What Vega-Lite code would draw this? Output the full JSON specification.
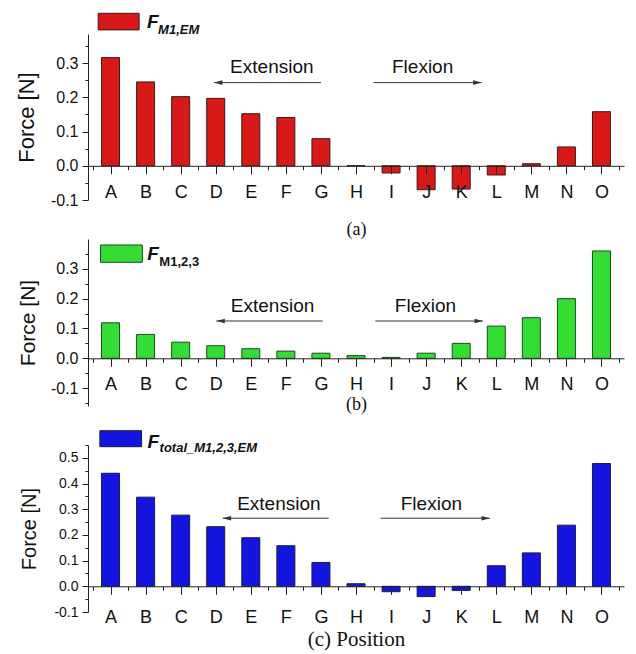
{
  "$schema": "https://vega.github.io/schema/vega-lite/v6.json",
  "padding": {"left": 15, "top": 12, "right": 5, "bottom": 2},
  "background": "white",
  "spacing": 39,
  "bounds": "flush",
  "config": {
    "view": {"stroke": null},
    "font": "Liberation Sans",
    "axis": {"grid": false, "domainColor": "#222", "tickColor": "#222", "labelColor": "#111", "titleColor": "#111", "labelFont": "Liberation Sans", "titleFont": "Liberation Sans", "titleFontWeight": "normal", "labelOverlap": false, "labelFlush": false, "domainWidth": 1, "tickWidth": 1}
  },
  "datasets": {
    "a": [
      {"pos": "A", "i": 0, "force": 0.316}, {"pos": "B", "i": 1, "force": 0.245}, {"pos": "C", "i": 2, "force": 0.202},
      {"pos": "D", "i": 3, "force": 0.197}, {"pos": "E", "i": 4, "force": 0.152}, {"pos": "F", "i": 5, "force": 0.141},
      {"pos": "G", "i": 6, "force": 0.079}, {"pos": "H", "i": 7, "force": 0.0}, {"pos": "I", "i": 8, "force": -0.021},
      {"pos": "J", "i": 9, "force": -0.070}, {"pos": "K", "i": 10, "force": -0.068}, {"pos": "L", "i": 11, "force": -0.027},
      {"pos": "M", "i": 12, "force": 0.006}, {"pos": "N", "i": 13, "force": 0.055}, {"pos": "O", "i": 14, "force": 0.158}
    ],
    "b": [
      {"pos": "A", "i": 0, "force": 0.119}, {"pos": "B", "i": 1, "force": 0.080}, {"pos": "C", "i": 2, "force": 0.054},
      {"pos": "D", "i": 3, "force": 0.042}, {"pos": "E", "i": 4, "force": 0.032}, {"pos": "F", "i": 5, "force": 0.024},
      {"pos": "G", "i": 6, "force": 0.017}, {"pos": "H", "i": 7, "force": 0.009}, {"pos": "I", "i": 8, "force": 0.003},
      {"pos": "J", "i": 9, "force": 0.017}, {"pos": "K", "i": 10, "force": 0.050}, {"pos": "L", "i": 11, "force": 0.108},
      {"pos": "M", "i": 12, "force": 0.136}, {"pos": "N", "i": 13, "force": 0.200}, {"pos": "O", "i": 14, "force": 0.360}
    ],
    "c": [
      {"pos": "A", "i": 0, "force": 0.440}, {"pos": "B", "i": 1, "force": 0.347}, {"pos": "C", "i": 2, "force": 0.277},
      {"pos": "D", "i": 3, "force": 0.232}, {"pos": "E", "i": 4, "force": 0.189}, {"pos": "F", "i": 5, "force": 0.158},
      {"pos": "G", "i": 6, "force": 0.093}, {"pos": "H", "i": 7, "force": 0.010}, {"pos": "I", "i": 8, "force": -0.021},
      {"pos": "J", "i": 9, "force": -0.040}, {"pos": "K", "i": 10, "force": -0.016}, {"pos": "L", "i": 11, "force": 0.080},
      {"pos": "M", "i": 12, "force": 0.130}, {"pos": "N", "i": 13, "force": 0.238}, {"pos": "O", "i": 14, "force": 0.478}
    ],
    "arr_a": [
      {"label": "Extension", "x1": 2.95, "x2": 6.0, "tip": 2.95, "dir": "left", "y": 0.243, "tx": 4.6, "ty": 0.289},
      {"label": "Flexion", "x1": 7.5, "x2": 10.58, "tip": 10.58, "dir": "right", "y": 0.243, "tx": 8.9, "ty": 0.289}
    ],
    "arr_b": [
      {"label": "Extension", "x1": 3.02, "x2": 6.05, "tip": 3.02, "dir": "left", "y": 0.125, "tx": 4.62, "ty": 0.175},
      {"label": "Flexion", "x1": 7.55, "x2": 10.62, "tip": 10.62, "dir": "right", "y": 0.125, "tx": 8.98, "ty": 0.175}
    ],
    "arr_c": [
      {"label": "Extension", "x1": 3.2, "x2": 6.22, "tip": 3.2, "dir": "left", "y": 0.265, "tx": 4.8, "ty": 0.32},
      {"label": "Flexion", "x1": 7.7, "x2": 10.82, "tip": 10.82, "dir": "right", "y": 0.265, "tx": 9.15, "ty": 0.32}
    ],
    "leg_a": [{"x": -0.352, "x2": 0.815, "y": 0.4455, "y2": 0.397, "main": "F", "sub": "M1,EM"}],
    "leg_b": [{"x": -0.285, "x2": 0.908, "y": 0.380, "y2": 0.322, "main": "F", "sub": "M1,2,3"}],
    "leg_c": [{"x": -0.304, "x2": 0.885, "y": 0.6056, "y2": 0.5434, "main": "F", "sub": "total_M1,2,3,EM"}]
  },
  "vconcat": [
    {
      "width": 536, "height": 166,
      "resolve": {"axis": {"x": "independent", "y": "independent"}},
      "layer": [
        {
          "data": {"name": "a"},
          "mark": {"type": "bar", "size": 18, "fill": "#d91818", "stroke": "#3a1a1a", "strokeWidth": 1},
          "encoding": {
            "x": {"field": "i", "type": "quantitative", "scale": {"domain": [-0.5, 14.5], "nice": false},
              "axis": {"orient": "bottom", "values": [0,1,2,3,4,5,6,7,8,9,10,11,12,13,14],
                "labelExpr": "substring('ABCDEFGHIJKLMNO', datum.value, datum.value + 1)",
                "tickSize": 8, "offset": -34.2, "labelPadding": 10, "labelFontSize": 18, "labelAngle": 0, "zindex": 1, "labelOverlap": false,
                "title": "(a)", "titleFont": "Liberation Serif", "titleFontSize": 18, "titlePadding": 19}},
            "y": {"field": "force", "type": "quantitative", "scale": {"domain": [-0.1, 0.385], "nice": false},
              "axis": {"orient": "left", "values": [-0.1, 0, 0.1, 0.2, 0.3], "format": ".1f",
                "labelExpr": "replace(datum.label, '\u2212', '-')", "labelOverlap": false,
                "tickSize": 6, "labelPadding": 4, "labelFontSize": 16, "title": "Force [N]", "titleFontSize": 22, "titlePadding": 12}}
          }
        },
        {
          "data": {"name": "arr_a"},
          "mark": {"type": "rule", "color": "#333", "strokeWidth": 1},
          "encoding": {
            "x": {"field": "x1", "type": "quantitative",
              "axis": {"orient": "bottom", "values": [-0.5,0.5,1.5,2.5,3.5,4.5,5.5,6.5,7.5,8.5,9.5,10.5,11.5,12.5,13.5,14.5], "labels": false, "domain": false, "tickSize": 4, "offset": -34.2, "zindex": 1, "title": null}},
            "x2": {"field": "x2"},
            "y": {"field": "y", "type": "quantitative",
              "axis": {"orient": "left", "values": [-0.05, 0.05, 0.15, 0.25, 0.35], "labels": false, "domain": false, "tickSize": 3, "title": null}}
          }
        },
        {
          "data": {"name": "arr_a"},
          "mark": {"type": "point", "filled": true, "color": "#333", "opacity": 1, "size": 70},
          "encoding": {"x": {"field": "tip", "type": "quantitative", "axis": null}, "y": {"field": "y", "type": "quantitative", "axis": null},
            "shape": {"field": "dir", "type": "nominal", "scale": {"domain": ["left", "right"], "range": ["M0,0L2,-0.55L2,0.55Z", "M0,0L-2,-0.55L-2,0.55Z"]}, "legend": null}}
        },
        {
          "data": {"name": "arr_a"},
          "mark": {"type": "text", "fontSize": 19, "color": "#111", "align": "center", "baseline": "middle"},
          "encoding": {"x": {"field": "tx", "type": "quantitative", "axis": null}, "y": {"field": "ty", "type": "quantitative", "axis": null}, "text": {"field": "label"}}
        },
        {
          "data": {"name": "leg_a"},
          "mark": {"type": "rect", "fill": "#d91818", "stroke": "#3a1a1a", "strokeWidth": 1},
          "encoding": {"x": {"field": "x", "type": "quantitative", "axis": null}, "x2": {"field": "x2"}, "y": {"field": "y", "type": "quantitative", "axis": null}, "y2": {"field": "y2"}}
        },
        {
          "data": {"name": "leg_a"},
          "mark": {"type": "text", "fontSize": 19, "fontWeight": "bold", "fontStyle": "italic", "align": "left", "baseline": "alphabetic", "dx": 8, "dy": -2, "color": "#111"},
          "encoding": {"x": {"field": "x2", "type": "quantitative", "axis": null}, "y": {"field": "y2", "type": "quantitative", "axis": null}, "text": {"field": "main"}}
        },
        {
          "data": {"name": "leg_a"},
          "mark": {"type": "text", "fontSize": 13, "fontWeight": "bold", "fontStyle": "italic", "align": "left", "baseline": "alphabetic", "dx": 19, "dy": 4, "color": "#111"},
          "encoding": {"x": {"field": "x2", "type": "quantitative", "axis": null}, "y": {"field": "y2", "type": "quantitative", "axis": null}, "text": {"field": "sub"}}
        }
      ]
    },
    {
      "width": 536, "height": 167,
      "resolve": {"axis": {"x": "independent", "y": "independent"}},
      "layer": [
        {
          "data": {"name": "b"},
          "mark": {"type": "bar", "size": 18, "fill": "#33dd33", "stroke": "#1f4a1f", "strokeWidth": 1},
          "encoding": {
            "x": {"field": "i", "type": "quantitative", "scale": {"domain": [-0.5, 14.5], "nice": false},
              "axis": {"orient": "bottom", "values": [0,1,2,3,4,5,6,7,8,9,10,11,12,13,14],
                "labelExpr": "substring('ABCDEFGHIJKLMNO', datum.value, datum.value + 1)",
                "tickSize": 8, "offset": -47.7, "labelPadding": 9, "labelFontSize": 18, "labelAngle": 0, "zindex": 1, "labelOverlap": false,
                "title": "(b)", "titleFont": "Liberation Serif", "titleFontSize": 18, "titlePadding": 2}},
            "y": {"field": "force", "type": "quantitative", "scale": {"domain": [-0.16, 0.40], "nice": false},
              "axis": {"orient": "left", "values": [-0.1, 0, 0.1, 0.2, 0.3], "format": ".1f",
                "labelExpr": "replace(datum.label, '\u2212', '-')", "labelOverlap": false,
                "tickSize": 6, "labelPadding": 4, "labelFontSize": 16, "title": "Force [N]", "titleFontSize": 21, "titlePadding": 12}}
          }
        },
        {
          "data": {"name": "arr_b"},
          "mark": {"type": "rule", "color": "#333", "strokeWidth": 1},
          "encoding": {
            "x": {"field": "x1", "type": "quantitative",
              "axis": {"orient": "bottom", "values": [-0.5,0.5,1.5,2.5,3.5,4.5,5.5,6.5,7.5,8.5,9.5,10.5,11.5,12.5,13.5,14.5], "labels": false, "domain": false, "tickSize": 4, "offset": -47.7, "zindex": 1, "title": null}},
            "x2": {"field": "x2"},
            "y": {"field": "y", "type": "quantitative",
              "axis": {"orient": "left", "values": [-0.15, -0.05, 0.05, 0.15, 0.25, 0.35], "labels": false, "domain": false, "tickSize": 3, "title": null}}
          }
        },
        {
          "data": {"name": "arr_b"},
          "mark": {"type": "point", "filled": true, "color": "#333", "opacity": 1, "size": 70},
          "encoding": {"x": {"field": "tip", "type": "quantitative", "axis": null}, "y": {"field": "y", "type": "quantitative", "axis": null},
            "shape": {"field": "dir", "type": "nominal", "scale": {"domain": ["left", "right"], "range": ["M0,0L2,-0.55L2,0.55Z", "M0,0L-2,-0.55L-2,0.55Z"]}, "legend": null}}
        },
        {
          "data": {"name": "arr_b"},
          "mark": {"type": "text", "fontSize": 19, "color": "#111", "align": "center", "baseline": "middle"},
          "encoding": {"x": {"field": "tx", "type": "quantitative", "axis": null}, "y": {"field": "ty", "type": "quantitative", "axis": null}, "text": {"field": "label"}}
        },
        {
          "data": {"name": "leg_b"},
          "mark": {"type": "rect", "fill": "#33dd33", "stroke": "#1f4a1f", "strokeWidth": 1},
          "encoding": {"x": {"field": "x", "type": "quantitative", "axis": null}, "x2": {"field": "x2"}, "y": {"field": "y", "type": "quantitative", "axis": null}, "y2": {"field": "y2"}}
        },
        {
          "data": {"name": "leg_b"},
          "mark": {"type": "text", "fontSize": 19, "fontWeight": "bold", "fontStyle": "italic", "align": "left", "baseline": "alphabetic", "dx": 5, "dy": -2, "color": "#111"},
          "encoding": {"x": {"field": "x2", "type": "quantitative", "axis": null}, "y": {"field": "y2", "type": "quantitative", "axis": null}, "text": {"field": "main"}}
        },
        {
          "data": {"name": "leg_b"},
          "mark": {"type": "text", "fontSize": 13, "fontWeight": "bold", "align": "left", "baseline": "alphabetic", "dx": 17, "dy": 4, "color": "#111"},
          "encoding": {"x": {"field": "x2", "type": "quantitative", "axis": null}, "y": {"field": "y2", "type": "quantitative", "axis": null}, "text": {"field": "sub"}}
        }
      ]
    },
    {
      "width": 536, "height": 167,
      "resolve": {"axis": {"x": "independent", "y": "independent"}},
      "layer": [
        {
          "data": {"name": "c"},
          "mark": {"type": "bar", "size": 18, "fill": "#1515e0", "stroke": "#1a1a4a", "strokeWidth": 1},
          "encoding": {
            "x": {"field": "i", "type": "quantitative", "scale": {"domain": [-0.5, 14.5], "nice": false},
              "axis": {"orient": "bottom", "values": [0,1,2,3,4,5,6,7,8,9,10,11,12,13,14],
                "labelExpr": "substring('ABCDEFGHIJKLMNO', datum.value, datum.value + 1)",
                "tickSize": 8, "offset": -25.7, "labelPadding": 14, "labelFontSize": 18, "labelAngle": 0, "zindex": 1, "labelOverlap": false,
                "title": "(c) Position", "titleFont": "Liberation Serif", "titleFontSize": 21, "titlePadding": 2}},
            "y": {"field": "force", "type": "quantitative", "scale": {"domain": [-0.1, 0.55], "nice": false},
              "axis": {"orient": "left", "values": [-0.1, 0, 0.1, 0.2, 0.3, 0.4, 0.5], "format": ".1f",
                "labelExpr": "replace(datum.label, '\u2212', '-')", "labelOverlap": false,
                "tickSize": 6, "labelPadding": 4, "labelFontSize": 14, "title": "Force [N]", "titleFontSize": 20, "titlePadding": 14}}
          }
        },
        {
          "data": {"name": "arr_c"},
          "mark": {"type": "rule", "color": "#333", "strokeWidth": 1},
          "encoding": {
            "x": {"field": "x1", "type": "quantitative",
              "axis": {"orient": "bottom", "values": [-0.5,0.5,1.5,2.5,3.5,4.5,5.5,6.5,7.5,8.5,9.5,10.5,11.5,12.5,13.5,14.5], "labels": false, "domain": false, "tickSize": 4, "offset": -25.7, "zindex": 1, "title": null}},
            "x2": {"field": "x2"},
            "y": {"field": "y", "type": "quantitative",
              "axis": {"orient": "left", "values": [-0.05, 0.05, 0.15, 0.25, 0.35, 0.45, 0.55], "labels": false, "domain": false, "tickSize": 3, "title": null}}
          }
        },
        {
          "data": {"name": "arr_c"},
          "mark": {"type": "point", "filled": true, "color": "#333", "opacity": 1, "size": 70},
          "encoding": {"x": {"field": "tip", "type": "quantitative", "axis": null}, "y": {"field": "y", "type": "quantitative", "axis": null},
            "shape": {"field": "dir", "type": "nominal", "scale": {"domain": ["left", "right"], "range": ["M0,0L2,-0.55L2,0.55Z", "M0,0L-2,-0.55L-2,0.55Z"]}, "legend": null}}
        },
        {
          "data": {"name": "arr_c"},
          "mark": {"type": "text", "fontSize": 19, "color": "#111", "align": "center", "baseline": "middle"},
          "encoding": {"x": {"field": "tx", "type": "quantitative", "axis": null}, "y": {"field": "ty", "type": "quantitative", "axis": null}, "text": {"field": "label"}}
        },
        {
          "data": {"name": "leg_c"},
          "mark": {"type": "rect", "fill": "#1515e0", "stroke": "#1a1a4a", "strokeWidth": 1},
          "encoding": {"x": {"field": "x", "type": "quantitative", "axis": null}, "x2": {"field": "x2"}, "y": {"field": "y", "type": "quantitative", "axis": null}, "y2": {"field": "y2"}}
        },
        {
          "data": {"name": "leg_c"},
          "mark": {"type": "text", "fontSize": 19, "fontWeight": "bold", "fontStyle": "italic", "align": "left", "baseline": "alphabetic", "dx": 6, "dy": 1, "color": "#111"},
          "encoding": {"x": {"field": "x2", "type": "quantitative", "axis": null}, "y": {"field": "y2", "type": "quantitative", "axis": null}, "text": {"field": "main"}}
        },
        {
          "data": {"name": "leg_c"},
          "mark": {"type": "text", "fontSize": 13, "fontWeight": "bold", "fontStyle": "italic", "align": "left", "baseline": "alphabetic", "dx": 18, "dy": 5, "color": "#111"},
          "encoding": {"x": {"field": "x2", "type": "quantitative", "axis": null}, "y": {"field": "y2", "type": "quantitative", "axis": null}, "text": {"field": "sub"}}
        }
      ]
    }
  ]
}
